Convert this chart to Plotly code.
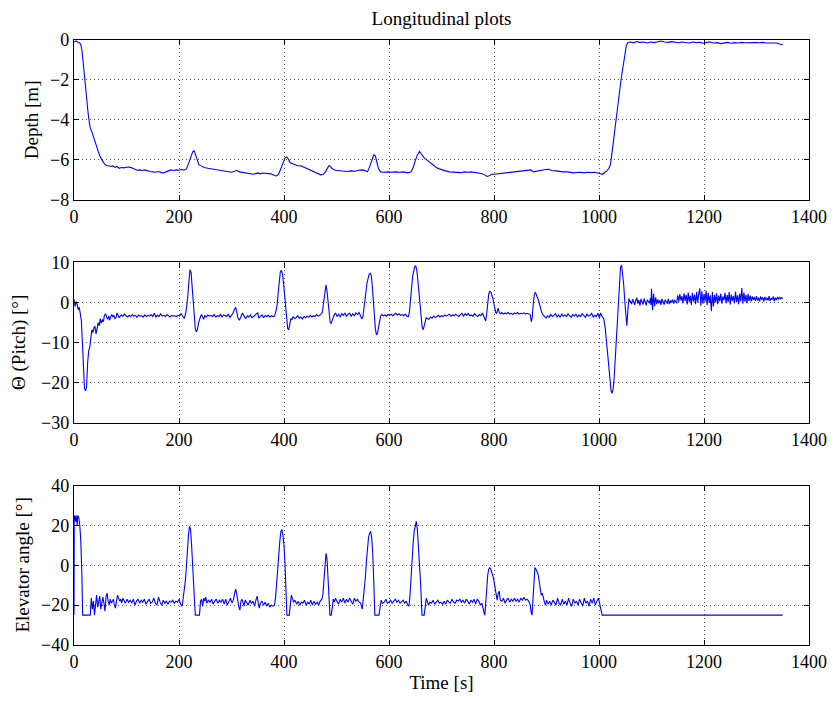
import plotly.graph_objects as go

# ---------------- data (time [s], value) ----------------
depth_points = [
    (0, -0.10), (4, -0.05), (8, -0.12), (11, -0.15), (13, -0.25), (15, -0.5), (17, -1.0), (19, -1.6),
    (21, -2.2), (23, -2.8), (25, -3.3), (27, -3.7), (29, -4.1), (31, -4.4), (34, -4.6), (37, -4.85),
    (40, -5.1), (43, -5.35), (46, -5.6), (49, -5.8), (52, -5.95), (55, -6.1), (58, -6.2), (62, -6.28),
    (66, -6.3), (70, -6.32), (74, -6.3), (78, -6.38), (82, -6.33), (86, -6.42), (90, -6.38), (95, -6.4),
    (100, -6.37), (105, -6.36), (110, -6.4), (115, -6.48), (120, -6.52), (125, -6.5), (130, -6.53),
    (135, -6.5), (140, -6.55), (145, -6.58), (150, -6.6), (155, -6.62), (160, -6.58), (165, -6.63),
    (170, -6.66), (175, -6.6), (180, -6.55), (185, -6.5), (190, -6.53), (195, -6.5), (200, -6.52),
    (205, -6.48), (210, -6.52), (214, -6.45), (218, -6.2), (222, -5.85), (226, -5.6), (229, -5.55),
    (232, -5.75), (235, -6.05), (238, -6.25), (242, -6.3), (248, -6.38), (255, -6.42), (262, -6.45),
    (270, -6.5), (278, -6.55), (285, -6.55), (292, -6.6), (300, -6.62), (305, -6.58), (310, -6.52),
    (315, -6.6), (320, -6.62), (328, -6.65), (335, -6.68), (342, -6.72), (350, -6.65), (355, -6.7),
    (360, -6.66), (368, -6.68), (375, -6.7), (382, -6.78), (386, -6.8), (390, -6.7), (394, -6.45),
    (398, -6.15), (402, -5.9), (405, -5.85), (408, -5.95), (412, -6.15), (418, -6.22), (425, -6.28),
    (432, -6.3), (440, -6.4), (448, -6.5), (455, -6.6), (462, -6.68), (470, -6.75), (475, -6.72),
    (479, -6.6), (483, -6.4), (486, -6.28), (489, -6.35), (492, -6.45), (498, -6.52), (505, -6.55),
    (512, -6.55), (520, -6.58), (528, -6.55), (535, -6.57), (542, -6.52), (550, -6.5), (555, -6.55),
    (559, -6.6), (563, -6.35), (567, -6.05), (571, -5.75), (574, -5.8), (577, -6.1), (580, -6.45),
    (584, -6.6), (590, -6.62), (598, -6.6), (605, -6.62), (612, -6.6), (620, -6.62), (628, -6.6),
    (636, -6.65), (642, -6.6), (646, -6.4), (650, -6.05), (654, -5.75), (658, -5.58), (662, -5.72),
    (667, -5.9), (672, -6.0), (678, -6.12), (684, -6.28), (690, -6.38), (696, -6.45), (702, -6.52),
    (708, -6.55), (715, -6.6), (722, -6.62), (730, -6.62), (737, -6.64), (744, -6.6), (750, -6.62),
    (756, -6.6), (762, -6.63), (770, -6.65), (776, -6.68), (782, -6.75), (787, -6.83), (791, -6.8),
    (795, -6.72), (800, -6.72), (806, -6.7), (812, -6.68), (818, -6.65), (825, -6.62), (832, -6.6),
    (840, -6.58), (848, -6.56), (855, -6.55), (862, -6.52), (870, -6.5), (875, -6.6), (880, -6.57),
    (886, -6.52), (892, -6.5), (898, -6.48), (904, -6.47), (910, -6.53), (918, -6.55), (925, -6.58),
    (932, -6.6), (940, -6.6), (946, -6.62), (952, -6.65), (958, -6.63), (965, -6.62), (972, -6.65),
    (978, -6.62), (985, -6.63), (992, -6.62), (998, -6.66), (1003, -6.7), (1007, -6.72), (1011, -6.62),
    (1015, -6.55), (1019, -6.42), (1022, -6.2), (1025, -5.6), (1028, -4.9), (1031, -4.3), (1034, -3.7),
    (1037, -3.1), (1040, -2.4), (1043, -1.8), (1046, -1.25), (1049, -0.75), (1052, -0.3), (1055, -0.12),
    (1060, -0.1), (1066, -0.14), (1072, -0.08), (1078, -0.12), (1085, -0.1), (1092, -0.15), (1098, -0.1),
    (1105, -0.13), (1112, -0.09), (1118, -0.05), (1125, -0.1), (1132, -0.12), (1138, -0.08), (1145, -0.1),
    (1152, -0.14), (1158, -0.1), (1165, -0.12), (1172, -0.15), (1178, -0.1), (1185, -0.13), (1192, -0.11),
    (1198, -0.16), (1205, -0.12), (1212, -0.1), (1218, -0.15), (1225, -0.13), (1232, -0.18), (1238, -0.14),
    (1245, -0.12), (1252, -0.16), (1258, -0.13), (1265, -0.15), (1272, -0.12), (1278, -0.14), (1285, -0.13),
    (1292, -0.15), (1298, -0.13), (1305, -0.14), (1312, -0.12), (1318, -0.15), (1325, -0.14), (1332, -0.13),
    (1338, -0.15), (1344, -0.2), (1350, -0.24),
]

pitch_points = [
    (0, 0.8), (2, -1.0), (4, 0.2), (6, -0.5), (8, -1.8), (10, -1.2), (12, -2.8), (14, -4.5), (16, -10),
    (18, -18), (20, -21.5), (22, -22), (24, -21), (26, -15), (28, -12), (30, -11.2), (32, -8.5), (34, -6.8),
    (36, -7.5), (38, -6.2), (40, -6.0), (42, -7.8), (44, -6.5), (46, -5.0), (48, -5.8), (50, -4.0),
    (52, -5.2), (54, -4.2), (56, -4.8), (58, -3.2), (60, -2.8), (62, -3.6), (64, -4.2), (66, -3.4),
    (68, -4.4), (70, -3.5), (72, -3.0), (74, -3.6), (76, -3.2), (78, -4.0), (80, -3.8), (82, -2.6),
    (84, -3.3), (86, -3.8), (88, -3.4), (90, -3.1), (93, -3.4), (96, -2.9), (99, -3.3), (102, -3.6),
    (105, -3.2), (108, -3.5), (111, -3.0), (114, -3.4), (117, -3.2), (120, -3.7), (123, -3.1), (126, -3.4),
    (129, -3.3), (132, -3.6), (135, -3.1), (138, -3.5), (141, -3.2), (144, -3.4), (147, -3.0), (150, -3.5),
    (153, -2.7), (156, -3.6), (159, -3.2), (162, -3.5), (165, -2.8), (168, -3.4), (171, -3.2), (174, -3.5),
    (177, -3.0), (180, -3.3), (183, -3.6), (186, -3.2), (189, -3.4), (192, -3.3), (195, -3.5), (198, -3.2),
    (201, -3.4), (204, -2.8), (207, -3.6), (210, -4.0), (213, -2.5), (216, 0.5), (219, 5.5), (221, 8.2),
    (223, 7.5), (225, 4.2), (227, -0.5), (229, -4.0), (231, -6.5), (233, -7.3), (235, -6.8), (237, -5.2),
    (239, -4.0), (241, -3.5), (243, -3.0), (245, -3.8), (247, -4.2), (249, -3.3), (252, -3.6), (255, -3.1),
    (258, -3.4), (261, -3.2), (264, -3.5), (267, -3.0), (270, -3.6), (273, -3.3), (276, -3.5), (279, -3.0),
    (282, -3.6), (285, -3.1), (288, -3.4), (291, -3.5), (294, -2.9), (297, -3.7), (300, -3.2), (303, -2.6),
    (306, -1.6), (308, -1.2), (310, -2.2), (312, -3.8), (315, -4.4), (318, -3.5), (321, -2.6), (324, -3.4),
    (327, -4.0), (330, -3.3), (333, -3.6), (336, -3.1), (339, -3.8), (342, -3.5), (345, -3.2), (348, -2.7),
    (350, -2.5), (352, -3.9), (355, -3.6), (358, -3.1), (361, -3.7), (364, -3.3), (367, -3.5), (370, -3.2),
    (373, -3.6), (376, -3.3), (379, -3.5), (382, -3.4), (385, -2.0), (387, -0.5), (389, 2.5), (391, 5.5),
    (393, 7.6), (395, 8.0), (397, 7.2), (399, 5.0), (401, 1.5), (403, -1.5), (405, -4.5), (407, -6.5),
    (409, -6.8), (411, -5.5), (413, -4.0), (415, -4.3), (417, -3.5), (420, -4.0), (423, -3.8), (426, -3.3),
    (429, -3.9), (432, -3.6), (435, -4.1), (438, -3.5), (441, -3.8), (444, -3.4), (447, -3.7), (450, -3.2),
    (453, -3.6), (456, -3.3), (459, -3.5), (462, -3.0), (465, -3.4), (468, -3.2), (471, -2.8), (473, -2.5),
    (475, -0.5), (477, 2.0), (479, 4.2), (480, 4.4), (482, 2.8), (484, 0.2), (486, -2.8), (488, -5.0),
    (490, -5.2), (492, -4.2), (494, -3.6), (496, -3.0), (498, -2.6), (501, -3.4), (504, -2.9), (507, -3.6),
    (510, -2.8), (513, -3.2), (516, -2.6), (519, -3.5), (522, -2.9), (525, -2.7), (528, -3.4), (531, -2.8),
    (534, -3.3), (537, -2.6), (540, -3.0), (543, -2.5), (546, -3.2), (548, -4.0), (550, -3.8), (552, -2.0),
    (554, 0.0), (556, 2.5), (558, 4.8), (560, 6.2), (562, 7.0), (564, 7.3), (566, 6.8), (568, 4.5),
    (570, 0.5), (572, -3.5), (574, -6.5), (576, -8.0), (578, -7.8), (580, -6.2), (582, -4.5), (584, -3.4),
    (586, -3.0), (589, -3.3), (592, -3.1), (595, -3.4), (598, -3.0), (601, -3.2), (604, -2.9), (607, -3.3),
    (610, -3.0), (613, -2.7), (616, -3.1), (619, -2.8), (622, -3.2), (625, -3.0), (628, -3.3), (631, -2.9),
    (634, -3.4), (637, -3.5), (639, -2.2), (641, 0.0), (643, 3.5), (645, 6.5), (647, 8.2), (649, 9.0),
    (651, 9.1), (653, 8.0), (655, 5.5), (657, 2.0), (659, -1.5), (661, -4.0), (663, -6.0), (665, -6.8),
    (667, -6.0), (669, -4.6), (671, -3.8), (673, -4.0), (676, -4.2), (679, -3.6), (682, -3.9), (685, -3.4),
    (688, -3.7), (691, -3.5), (694, -3.2), (697, -3.6), (700, -3.3), (703, -3.5), (706, -3.1), (709, -3.4),
    (712, -3.2), (715, -2.9), (718, -3.4), (721, -3.1), (724, -3.3), (727, -2.9), (730, -3.2), (733, -3.5),
    (736, -3.0), (739, -2.7), (742, -3.4), (745, -2.8), (748, -3.2), (751, -2.7), (754, -3.3), (757, -3.1),
    (760, -3.4), (763, -2.8), (766, -3.2), (769, -3.5), (772, -3.0), (775, -3.3), (778, -2.6), (781, -3.6),
    (784, -4.6), (786, -3.0), (788, 0.0), (790, 2.2), (792, 2.8), (794, 2.6), (796, 1.8), (798, 1.0),
    (800, -0.5), (802, -2.0), (804, -2.8), (806, -2.3), (808, -1.4), (810, -2.5), (812, -2.8), (815, -2.5),
    (818, -2.9), (821, -2.6), (824, -2.8), (827, -2.5), (830, -2.9), (833, -2.7), (836, -3.0), (839, -2.6),
    (842, -2.8), (845, -2.5), (848, -2.9), (851, -2.7), (854, -2.8), (857, -2.6), (860, -2.9), (863, -2.7),
    (866, -2.9), (869, -3.0), (871, -4.8), (873, -3.5), (875, 0.0), (877, 2.2), (879, 2.5), (881, 2.0),
    (883, 1.2), (885, 0.5), (887, -0.8), (889, -2.0), (891, -2.5), (893, -3.0), (896, -3.6), (899, -3.9),
    (902, -3.3), (905, -3.7), (908, -3.0), (911, -3.5), (914, -3.2), (917, -2.8), (920, -3.6), (923, -3.1),
    (926, -3.7), (929, -2.9), (932, -3.4), (935, -3.1), (938, -3.5), (941, -2.8), (944, -3.3), (947, -3.7),
    (950, -3.0), (953, -3.4), (956, -2.9), (959, -3.6), (962, -3.1), (965, -3.5), (968, -2.8), (971, -3.3),
    (974, -3.7), (977, -2.9), (980, -3.4), (983, -3.2), (986, -2.7), (989, -3.6), (992, -3.2), (995, -3.5),
    (998, -2.7), (1001, -3.8), (1003, -2.6), (1006, -3.5), (1009, -4.0), (1012, -6.5), (1015, -11.0),
    (1018, -16.0), (1021, -20.0), (1023, -22.0), (1025, -22.6), (1027, -21.5), (1029, -18.5), (1031, -14.0),
    (1033, -8.5), (1035, -2.5), (1037, 2.5), (1039, 6.5), (1041, 8.8), (1043, 9.3), (1045, 7.5), (1047, 4.5),
    (1049, 0.5), (1051, -3.0), (1053, -5.8), (1055, -2.0), (1057, 1.0), (1059, 0.2),
    (1060, 0.3), (1062, -0.4), (1064, 0.8), (1066, 0.1), (1068, -0.6), (1070, 0.5), (1072, 1.2), (1074, -0.3),
    (1076, 0.6), (1078, -0.8), (1080, 0.9), (1082, 0.2), (1084, -0.5), (1086, 1.0), (1088, 0.0), (1090, -0.7),
    (1092, 0.7), (1094, 0.3), (1096, -0.2), (1098, 1.1), (1099, -0.6), (1100, 3.4), (1102, -1.9), (1104, 2.2),
    (1106, -0.9), (1108, 1.3), (1110, -0.4), (1112, 0.8), (1114, -0.2), (1116, 0.6), (1118, -0.6), (1120, 0.9),
    (1122, 0.1), (1124, -0.5), (1126, 0.7), (1128, 0.2), (1130, -0.3), (1132, 0.9), (1134, -0.4), (1136, 0.5),
    (1138, 0.0), (1140, 0.8), (1142, -0.3), (1144, 0.6), (1146, 0.1), (1148, -0.2),
    (1150, 1.8), (1152, 0.2), (1154, 2.1), (1156, 0.5), (1158, 1.6), (1160, -0.2), (1162, 2.3), (1164, 0.4),
    (1166, 1.9), (1168, -0.5), (1170, 2.5), (1172, 0.1), (1174, 1.7), (1176, -0.6), (1178, 2.4), (1180, 0.3),
    (1182, 2.0), (1184, -0.4), (1186, 2.6), (1188, 0.0), (1190, 2.2), (1192, 3.5), (1194, -0.8), (1196, 2.8),
    (1198, -0.3), (1200, 2.1), (1202, 0.2), (1204, 2.9), (1206, -0.7), (1208, 2.4), (1210, -0.1), (1212, 1.8),
    (1214, -2.2), (1216, 2.6), (1218, -1.0), (1220, 1.9), (1222, 0.0), (1224, 2.3), (1226, -0.4), (1228, 1.7),
    (1230, 0.3), (1232, 2.2), (1234, -0.3), (1236, 1.5), (1238, 0.6), (1240, 2.4), (1242, -0.2), (1244, 1.9),
    (1246, 0.1), (1248, 2.6), (1250, -0.5), (1252, 2.0), (1254, 0.4), (1256, 1.6), (1258, -0.2), (1260, 2.7),
    (1262, 0.1), (1264, 1.8), (1266, -0.4), (1268, 2.2), (1270, 0.3), (1272, 3.6), (1274, -0.3), (1276, 2.5),
    (1278, 0.2), (1280, 1.9), (1282, -0.2), (1284, 2.1), (1286, 0.4), (1288, 1.7), (1290, 0.3),
    (1292, 1.5), (1294, 0.6), (1296, 1.4), (1298, 0.4), (1300, 1.6), (1302, 0.5), (1304, 1.2), (1306, 0.3),
    (1308, 1.5), (1310, 0.7), (1312, 1.3), (1314, 0.2), (1316, 1.4), (1318, 0.6), (1320, 1.2), (1322, 0.5),
    (1324, 1.6), (1326, 0.4), (1328, 1.1), (1330, 0.7), (1332, 1.5), (1334, 0.3), (1336, 1.2), (1338, 0.6),
    (1340, 1.4), (1342, 0.8), (1344, 1.3), (1346, 0.9), (1348, 1.2), (1350, 1.0),
]

elevator_points = [
    (0, -25), (0.5, 25), (2, 24), (3, 22), (4, 25), (6, 20), (7, 25), (9, 24), (11, 20), (13, 12), (15, -5),
    (16.5, -25), (31, -25), (33, -16.5), (35, -22), (37, -18), (39, -25), (41, -20), (43, -15), (45, -21),
    (47, -17), (49, -15.5), (51, -22), (53, -18), (55, -16), (57, -19), (59, -23), (61, -16), (63, -14),
    (65, -18), (67, -20), (69, -17), (71, -19), (73, -18), (75, -17), (77, -20), (79, -21.5), (81, -18),
    (83, -15), (85, -16.5), (87, -18), (89, -17), (91, -19), (93, -16.5), (95, -17.5), (98, -19), (101, -17),
    (104, -18.5), (107, -17.5), (110, -19), (113, -17), (116, -20), (119, -18), (122, -17), (125, -19),
    (128, -17.5), (131, -18.5), (134, -17), (137, -19.5), (140, -18), (143, -17), (146, -19), (149, -18.5),
    (152, -16.5), (155, -19), (158, -20), (161, -16), (164, -18.5), (167, -20), (170, -17.5), (173, -19),
    (176, -18), (179, -19.5), (182, -18), (185, -18.5), (188, -17.5), (191, -19), (194, -18), (197, -18.5),
    (200, -17), (203, -19.5), (206, -20.5), (208, -17), (210, -14), (212, -8), (214, -1), (216, 8), (218, 15),
    (220, 19.5), (222, 18), (224, 10), (226, 0), (228, -12), (230, -22), (231, -25), (239, -25), (241, -18),
    (243, -17), (245, -20.5), (247, -16.5), (249, -18), (251, -16), (253, -19), (256, -17.5), (259, -18.5),
    (262, -17), (265, -19.5), (268, -18), (271, -17), (274, -19), (277, -17.5), (280, -18.5), (283, -17),
    (286, -19.5), (289, -17), (292, -20), (295, -18), (298, -16.5), (301, -19), (304, -17), (306, -14),
    (308, -12), (310, -14.5), (312, -19), (314, -21), (316, -22.5), (318, -18), (320, -17), (322, -19.5),
    (324, -20.5), (326, -17.5), (329, -18.5), (332, -20), (335, -17.5), (338, -19), (341, -18), (344, -20.5),
    (347, -17), (349, -15.5), (351, -19), (353, -21.5), (355, -19), (358, -18), (361, -20), (364, -18.5),
    (367, -20.5), (370, -19), (373, -21), (376, -20), (379, -20.5), (382, -20), (384, -16), (386, -8),
    (388, 0), (390, 7), (392, 12), (394, 17), (396, 18), (398, 15), (400, 10), (402, 0), (404, -14),
    (405.5, -25), (410, -25), (412, -19), (414, -15), (416, -16.5), (418, -18.5), (421, -17.5), (424, -19.5),
    (427, -18), (430, -20), (433, -18.5), (436, -19), (439, -17.5), (442, -20), (445, -18.5), (448, -19.5),
    (451, -17.5), (454, -20), (457, -18), (460, -19.5), (463, -18.5), (466, -20), (469, -18), (472, -17),
    (474, -15), (476, -9), (478, -1), (480, 6), (482, 3), (484, -7), (486, -17), (487.5, -25), (490, -25),
    (492, -19), (494, -17), (496, -18.5), (498, -16.5), (501, -18), (504, -19.5), (507, -17), (510, -18.5),
    (513, -16.5), (516, -19), (519, -17), (522, -18.5), (525, -16.5), (528, -18), (531, -19.5), (534, -16.5),
    (537, -18), (540, -17), (543, -18.5), (546, -19), (549, -22), (551, -17), (553, -12), (555, -6), (557, 2),
    (559, 9), (561, 14), (563, 16), (565, 17), (567, 14), (569, 6), (571, -8), (573, -25), (581, -25),
    (583, -20), (585, -17.5), (588, -19), (591, -18.5), (594, -17), (597, -19), (600, -18.5), (603, -17.5),
    (606, -19), (609, -18), (612, -17), (615, -18.5), (618, -17.5), (621, -19), (624, -18), (627, -17.5),
    (630, -19), (633, -18), (636, -20), (638, -20.5), (640, -15), (642, -5), (644, 3), (646, 11), (648, 17),
    (650, 20.5), (652, 22), (654, 18), (656, 11), (658, 4), (660, -8), (662, -20), (663, -25), (667, -25),
    (669, -20), (671, -16.5), (673, -18), (675, -20), (678, -18.5), (681, -19), (684, -17.5), (687, -19.5),
    (690, -18.5), (693, -17.5), (696, -19), (699, -18.5), (702, -19.5), (705, -18), (708, -19.5), (711, -17.5),
    (714, -18.5), (717, -19), (720, -17), (723, -18.5), (726, -19), (729, -17.5), (732, -18), (735, -17),
    (738, -18.5), (741, -17.5), (744, -19), (747, -17), (750, -18), (753, -19.5), (756, -17.5), (759, -18.5),
    (762, -17), (765, -19.5), (768, -17), (771, -18), (774, -20), (777, -19), (779, -21.5), (781, -24),
    (782.5, -25), (784, -20), (786, -12), (788, -5), (790, -2), (792, -1.2), (794, -2), (796, -3.5),
    (798, -5.5), (800, -8), (802, -12), (804, -16), (806, -17.5), (808, -14), (810, -13), (812, -17.5),
    (815, -18), (818, -16.5), (821, -19), (824, -17.5), (827, -16.5), (830, -18.5), (833, -17), (836, -18),
    (839, -16.5), (842, -18), (845, -17), (848, -18.5), (851, -16.5), (854, -17.5), (857, -16), (860, -17.5),
    (863, -17), (866, -18), (869, -20), (871, -24), (872.5, -25), (874, -18), (876, -8), (878, -1.2),
    (880, -2), (882, -3), (884, -4.5), (886, -8), (888, -13), (890, -15), (892, -14), (894, -17), (896, -18.5),
    (898, -20), (900, -17.5), (903, -19.5), (906, -18), (909, -20), (912, -17.5), (915, -18.5), (918, -20),
    (921, -16.5), (924, -19), (927, -20), (930, -17), (933, -19.5), (936, -18), (939, -20), (942, -16.5),
    (945, -19), (948, -20.5), (951, -17), (954, -19), (957, -18), (960, -20), (963, -17), (966, -18.5),
    (969, -20.5), (972, -16.5), (975, -19), (978, -18), (981, -20.5), (984, -17), (987, -19), (990, -16.5),
    (993, -20), (996, -18), (999, -16.5), (1001, -19), (1003, -21.5), (1005, -23), (1006, -25), (1350, -25),
]

x_ticks = [0, 200, 400, 600, 800, 1000, 1200, 1400]
depth_ticks = [-8, -6, -4, -2, 0]
pitch_ticks = [-30, -20, -10, 0, 10]
elev_ticks = [-40, -20, 0, 20, 40]

title_text = "Longitudinal plots"
y_titles = ["Depth [m]", "Θ (Pitch) [°]", "Elevator angle [°]"]
x_title = "Time [s]"

# ---------------- figure ----------------
FONT = "Liberation Serif"
LINE = dict(color="#0000ff", width=1.1)

fig = go.Figure()
for pts, xa, ya in [(depth_points, "x", "y"), (pitch_points, "x2", "y2"), (elevator_points, "x3", "y3")]:
    fig.add_trace(go.Scatter(x=[p[0] for p in pts], y=[p[1] for p in pts], mode="lines",
                             line=LINE, xaxis=xa, yaxis=ya, showlegend=False, hoverinfo="skip"))

common = dict(showline=True, linecolor="black", linewidth=1.4, mirror="ticks",
              ticks="inside", ticklen=5, tickwidth=1, tickcolor="black",
              showgrid=True, gridcolor="#555555", griddash="1px,3px", gridwidth=1,
              zeroline=False, tickfont=dict(family=FONT, size=18, color="black"))

ydomains = [[0.7358, 1.0], [0.3672, 0.6324], [0.0, 0.2636]]
yranges = [[-8, 0], [-30, 10], [-40, 40]]
yticks = [depth_ticks, pitch_ticks, elev_ticks]
# horizontal centre of each y-axis title, in pixels from the left of the page
ytitle_px = [32, 18, 22]

L, R, T, B = 74, 26, 40, 49
W, H = 839, 701
plot_w = W - L - R

layout = dict(width=W, height=H, margin=dict(l=L, r=R, t=T, b=B),
              plot_bgcolor="white", paper_bgcolor="white",
              font=dict(family=FONT, size=18, color="black"),
              title=dict(text=title_text, x=0.5, xref="paper", y=1 - 18 / H, yref="container",
                         xanchor="center", yanchor="middle", font=dict(family=FONT, size=19)))

annotations = []
for i in range(3):
    xs = "xaxis" if i == 0 else f"xaxis{i+1}"
    ys = "yaxis" if i == 0 else f"yaxis{i+1}"
    anchor_y = "y" if i == 0 else f"y{i+1}"
    anchor_x = "x" if i == 0 else f"x{i+1}"
    xa = dict(common, range=[0, 1400], tickvals=x_ticks, anchor=anchor_y, domain=[0, 1])
    if i == 2:
        xa["title"] = dict(text=x_title, font=dict(family=FONT, size=19), standoff=4)
    layout[xs] = xa
    layout[ys] = dict(common, range=yranges[i], tickvals=yticks[i], anchor=anchor_x, domain=ydomains[i])
    annotations.append(dict(text=y_titles[i], textangle=-90, showarrow=False,
                            xref="paper", x=(ytitle_px[i] - L) / plot_w, xanchor="center",
                            yref="paper", y=sum(ydomains[i]) / 2, yanchor="middle",
                            font=dict(family=FONT, size=19, color="black")))

layout["annotations"] = annotations
fig.update_layout(**layout)
fig.write_html("out.html")
